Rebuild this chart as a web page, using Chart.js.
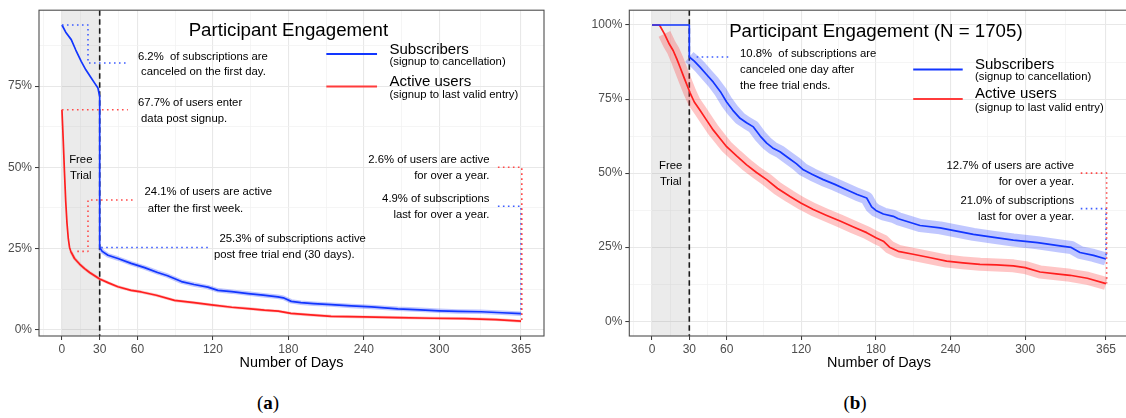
<!DOCTYPE html>
<html>
<head>
<meta charset="utf-8">
<title>Participant Engagement</title>
<script src="https://cdn.jsdelivr.net/npm/chart.js@4.4.1/dist/chart.umd.min.js"></script>
<style>
  html, body { margin: 0; padding: 0; background: #fff; width: 1126px; height: 418px; overflow: hidden; position: relative; }
  canvas { position: absolute; top: 0; }
  .tag { position: absolute; top: 392px; width: 60px; text-align: center; font: 19px "Liberation Serif", "DejaVu Serif", serif; color: #000; }
  .tag b { font-weight: bold; }
</style>
</head>
<body>
<canvas id="panelA" width="560" height="380" style="left:0px"></canvas>
<canvas id="panelB" width="570" height="380" style="left:565px"></canvas>
<div class="tag" style="left:238px">(<b>a</b>)</div>
<div class="tag" style="left:825px">(<b>b</b>)</div>

<script>
// ---- axis breaks ----
const dayTicks = [0, 30, 60, 120, 180, 240, 300, 365];
const dayMinor = [-15, 15, 45, 90, 150, 210, 270, 332.5];
const pctTicksA = [0, 25, 50, 75];
const pctTicksB = [0, 25, 50, 75, 100];
const pctMinor = [12.5, 37.5, 62.5, 87.5];
const trialDays = 30;

// ---- panel (a): subscribers (signup to cancellation) ----
const subsDaysA = [0, 3, 7.4, 11, 15.3, 19, 23.3, 26, 28.6, 30, 30, 32, 36.6, 44.5, 55, 65.7, 76, 84, 95, 105, 116, 124, 135, 148, 160, 171.7, 176, 182.3, 190, 200, 214, 230, 246, 267, 285, 300, 315, 333, 350, 365];
const subsPctA  = [93.8, 91.6, 89.3, 86.1, 82.6, 80.0, 77.5, 75.9, 74.4, 71.8, 25.3, 24.1, 22.9, 21.9, 20.4, 19.1, 17.6, 16.6, 14.8, 13.9, 13.1, 12.1, 11.7, 11.1, 10.6, 10.1, 9.8, 8.7, 8.3, 8.0, 7.7, 7.3, 7.0, 6.4, 6.1, 5.8, 5.6, 5.5, 5.2, 4.9];

// ---- panel (a): active users (signup to last valid entry) ----
const activeDaysA = [0, 1, 2, 3, 4, 5, 6, 7, 10, 14, 18, 22, 26, 30, 37, 44.5, 55, 63, 75, 89.5, 105, 119, 135, 150, 161, 172, 182, 195, 214, 240, 267, 295, 320, 345, 365];
const activePctA  = [67.7, 58.5, 48.5, 39.5, 32.8, 28.2, 25.4, 24.1, 21.9, 20.2, 18.8, 17.6, 16.6, 15.6, 14.4, 13.2, 12.1, 11.6, 10.6, 9.0, 8.3, 7.6, 6.9, 6.4, 6.0, 5.7, 5.0, 4.6, 4.1, 3.9, 3.7, 3.5, 3.4, 3.1, 2.6];

// ---- panel (b): subscribers, N = 1705 ----
const subsDaysB = [0, 30, 30, 34, 38.6, 44, 49.3, 55, 60, 65, 70.8, 76, 81.5, 87, 92.2, 97, 102.9, 110, 116, 121.7, 129, 137.7, 147, 156.5, 165, 172.6, 176.6, 180, 186, 194, 198, 215.5, 231.6, 245, 258.4, 275, 290.5, 310, 328, 337, 344.1, 355, 365];
const subsPctB  = [100, 100, 89.2, 87.8, 85.8, 83.2, 80.7, 77.5, 74.0, 71.2, 68.5, 67.0, 65.6, 62.5, 60.1, 58.5, 57.2, 55.0, 53.2, 51.1, 49.5, 47.8, 46.2, 44.4, 42.8, 41.6, 38.6, 37.4, 36.2, 35.4, 34.6, 32.3, 31.5, 30.4, 29.3, 28.3, 27.4, 26.5, 25.4, 24.9, 23.2, 22.2, 21.0];

// ---- panel (b): active users, N = 1705 ----
const activeDaysB = [0, 6, 10, 14, 17, 20, 22.5, 26, 30.5, 34, 38.6, 44, 49.3, 55, 60, 68, 76.1, 84, 92.2, 101, 111, 120, 129.7, 140, 151.2, 162, 172.6, 180, 186, 191, 198, 210, 223, 236.9, 250, 263.7, 277, 290.5, 300, 312, 325, 336.1, 350, 365];
const activePctB  = [100, 100, 97.0, 93.5, 91.4, 88.5, 85.8, 82.0, 77.2, 74.0, 71.2, 67.8, 64.5, 61.5, 58.9, 55.8, 52.8, 50.2, 47.8, 44.8, 42.1, 39.8, 37.7, 35.8, 33.8, 31.8, 29.9, 28.2, 27.0, 25.0, 23.6, 22.6, 21.5, 20.3, 19.7, 19.2, 19.0, 18.7, 18.1, 16.6, 16.0, 15.5, 14.5, 12.7];

// ---- styling ----
const FONT = "'Liberation Sans', Arial, Helvetica, sans-serif";
Chart.defaults.font.family = FONT;
const BLUE = '#1236ff', RED = '#ff1f1f';
const BLUE_BAND = 'rgba(45, 70, 255, 0.30)', RED_BAND = 'rgba(255, 45, 45, 0.28)';
const BLUE_DOT = '#3d5cff', RED_DOT = '#ff4a4a';

const fmt = v => v.toFixed(1);
const pts = (xs, ys) => xs.map((d, i) => ({ x: d, y: ys[i] }));
const last = arr => arr[arr.length - 1];

function lineSet(data, color, width, order, extra) {
  return Object.assign({
    data, borderColor: color, borderWidth: width, pointRadius: 0,
    fill: false, tension: 0, order, borderJoinStyle: 'round', borderCapStyle: 'butt'
  }, extra || {});
}
function guideSet(coords, color) {
  return lineSet(coords.map(([x, y]) => ({ x, y })), color, 1.6, 0, { borderDash: [1.6, 3.4] });
}

function xAxis() {
  return {
    type: 'linear', min: -18.25, max: 383.25,
    afterBuildTicks(s) { s.ticks = [...dayTicks, ...dayMinor].sort((a, b) => a - b).map(v => ({ value: v })); },
    ticks: { autoSkip: false, maxRotation: 0, color: '#4d4d4d', font: { size: 12 }, padding: 2,
             callback: v => dayTicks.includes(v) ? String(v) : '' },
    grid: {
      color: c => dayTicks.includes(c.tick.value) ? '#e8e8e8' : '#f0f0f0',
      lineWidth: c => dayTicks.includes(c.tick.value) ? 1.1 : 0.7,
      tickLength: 4, tickWidth: 1,
      tickColor: c => dayTicks.includes(c.tick.value) ? '#333333' : 'rgba(0,0,0,0)'
    },
    border: { display: false },
    title: { display: true, text: 'Number of Days', color: '#000', font: { size: 14.4 }, padding: { top: 0, bottom: 8 } },
    afterFit(s) { s.height = 44; }
  };
}
function yAxis(min, max, major, width) {
  return {
    type: 'linear', min, max,
    afterBuildTicks(s) { s.ticks = [...major, ...pctMinor].filter(v => v >= min && v <= max).sort((a, b) => a - b).map(v => ({ value: v })); },
    ticks: { autoSkip: false, color: '#4d4d4d', font: { size: 12 }, padding: 3,
             callback: v => major.includes(v) ? v + '%' : '' },
    grid: {
      color: c => major.includes(c.tick.value) ? '#e8e8e8' : '#f0f0f0',
      lineWidth: c => major.includes(c.tick.value) ? 1.1 : 0.7,
      tickLength: 4, tickWidth: 1,
      tickColor: c => major.includes(c.tick.value) ? '#333333' : 'rgba(0,0,0,0)'
    },
    border: { display: false },
    afterFit(s) { s.width = width; }
  };
}

// Shading, trial-end line, texts, legend keys and the panel frame.
function decor(spec) {
  return {
    id: 'decor',
    beforeDatasetsDraw(chart) {
      const { ctx, chartArea: a, scales: { x } } = chart;
      ctx.save();
      const x0 = x.getPixelForValue(0), x1 = x.getPixelForValue(trialDays);
      ctx.fillStyle = 'rgba(120,120,120,0.15)';
      ctx.fillRect(x0, a.top, x1 - x0, a.bottom - a.top);
      ctx.strokeStyle = '#1a1a1a';
      ctx.lineWidth = 1.6;
      ctx.setLineDash([5.5, 3.5]);
      ctx.beginPath();
      ctx.moveTo(x1, a.top);
      ctx.lineTo(x1, a.bottom);
      ctx.stroke();
      ctx.restore();
    },
    afterDatasetsDraw(chart) {
      const { ctx, scales: { x, y } } = chart;
      ctx.save();
      ctx.textBaseline = 'middle';
      // legend keys
      ctx.lineWidth = 2;
      spec.keys.forEach(k => {
        ctx.strokeStyle = k.color;
        ctx.beginPath();
        ctx.moveTo(x.getPixelForValue(k.from), y.getPixelForValue(k.at));
        ctx.lineTo(x.getPixelForValue(k.to), y.getPixelForValue(k.at));
        ctx.stroke();
      });
      // titles, legend labels and notes
      ctx.fillStyle = '#000';
      spec.texts.forEach(([d, p, s, align, size]) => {
        ctx.font = (size || 11.3) + 'px ' + FONT;
        ctx.textAlign = align;
        ctx.fillText(s, x.getPixelForValue(d), y.getPixelForValue(p));
      });
      ctx.restore();
    },
    afterDraw(chart) {
      const { ctx, chartArea: a } = chart;
      ctx.save();
      ctx.strokeStyle = '#4d4d4d';
      ctx.lineWidth = 1.1;
      ctx.strokeRect(a.left, a.top, a.right - a.left, a.bottom - a.top);
      ctx.restore();
    }
  };
}

function legendTexts(title, titlePct, left, pcts) {
  return [
    [180, titlePct, title, 'center', 18.7],
    [left, pcts[0], 'Subscribers', 'left', 15],
    [left, pcts[1], '(signup to cancellation)', 'left', 11.3],
    [left, pcts[2], 'Active users', 'left', 15],
    [left, pcts[3], '(signup to last valid entry)', 'left', 11.3]
  ];
}

function makePanel(id, cfg) {
  return new Chart(document.getElementById(id), {
    type: 'line',
    data: { datasets: cfg.datasets },
    options: {
      responsive: false, animation: false, devicePixelRatio: 1,
      parsing: true, normalized: true,
      layout: { padding: { left: 0, top: 10, right: cfg.rightPad, bottom: 0 } },
      scales: { x: xAxis(), y: yAxis(cfg.yMin, cfg.yMax, cfg.yMajor, cfg.yWidth) },
      plugins: { legend: { display: false }, tooltip: { enabled: false } }
    },
    plugins: [decor(cfg)]
  });
}

// ---------- panel (a) ----------
const dropA = subsDaysA.lastIndexOf(trialDays);
const weekA = activeDaysA.indexOf(7);
const subsA = pts(subsDaysA, subsPctA);
const activeA = pts(activeDaysA, activePctA);

makePanel('panelA', {
  yMin: -1.96, yMax: 98.36, yMajor: pctTicksA, yWidth: 39, rightPad: 16,
  datasets: [
    lineSet(subsA.slice(dropA), BLUE_BAND, 4.5, 3),
    lineSet(activeA.slice(weekA), RED_BAND, 3, 3),
    lineSet(activeA, RED, 1.7, 2),
    lineSet(subsA, BLUE, 1.7, 1),
    guideSet([[0, subsPctA[0]], [20.7, subsPctA[0]], [20.7, 82.1], [53.3, 82.1]], BLUE_DOT),
    guideSet([[0, activePctA[0]], [52.4, activePctA[0]]], RED_DOT),
    guideSet([[12.2, activePctA[weekA]], [20.7, activePctA[weekA]], [20.7, 39.9], [57.7, 39.9]], RED_DOT),
    guideSet([[31.2, subsPctA[dropA]], [117.3, subsPctA[dropA]]], BLUE_DOT),
    guideSet([[346.6, 50], [365.6, 50], [365.6, last(activePctA)]], RED_DOT),
    guideSet([[346.6, 38], [365, 38], [365, last(subsPctA)]], BLUE_DOT)
  ],
  keys: [
    { color: BLUE, from: 210.2, to: 250.5, at: 84.9 },
    { color: '#ff3b3b', from: 210.2, to: 250.5, at: 74.9 }
  ],
  texts: [
    ...legendTexts('Participant Engagement', 92.1, 260.4, [86.2, 82.4, 76.4, 72.3]),
    [15, 52.2, 'Free', 'center'],
    [15, 47.4, 'Trial', 'center'],
    [60.4, 84.1, `${fmt(100 - subsPctA[0])}%  of subscriptions are`, 'left'],
    [60.4, 79.3, ' canceled on the first day.', 'left'],
    [60.4, 69.9, `${fmt(activePctA[0])}% of users enter`, 'left'],
    [60.4, 64.9, ' data post signup.', 'left'],
    [65.7, 42.3, `${fmt(activePctA[weekA])}% of users are active`, 'left'],
    [65.7, 37.1, ' after the first week.', 'left'],
    [125.3, 27.8, `${fmt(subsPctA[dropA])}% of subscriptions active`, 'left'],
    [120.8, 22.9, 'post free trial end (30 days).', 'left'],
    [339.9, 52.3, `${fmt(last(activePctA))}% of users are active`, 'right'],
    [339.9, 47.3, 'for over a year.', 'right'],
    [339.9, 40.2, `${fmt(last(subsPctA))}% of subscriptions`, 'right'],
    [339.9, 35.3, 'last for over a year.', 'right']
  ]
});

// ---------- panel (b) ----------
const dropB = subsDaysB.lastIndexOf(trialDays);
const subsB = pts(subsDaysB, subsPctB);
const activeB = pts(activeDaysB, activePctB);
const N = 1705;

makePanel('panelB', {
  yMin: -5, yMax: 105, yMajor: pctTicksB, yWidth: 64.3, rightPad: 6.3,
  datasets: [
    lineSet(subsB.slice(dropB), BLUE_BAND, 13, 3),
    lineSet(activeB.slice(2), RED_BAND, 13, 3),
    lineSet(activeB, RED, 1.7, 2),
    lineSet(subsB, BLUE, 1.7, 1),
    guideSet([[35.9, subsPctB[dropB]], [64, subsPctB[dropB]]], BLUE_DOT),
    guideSet([[344.7, 50], [365.5, 50], [365.5, last(activePctB)]], RED_DOT),
    guideSet([[344.7, 38], [365, 38], [365, last(subsPctB)]], BLUE_DOT)
  ],
  keys: [
    { color: BLUE, from: 210, to: 249.8, at: 85 },
    { color: '#ff3b3b', from: 210, to: 249.8, at: 75 }
  ],
  texts: [
    ...legendTexts(`Participant Engagement (N = ${N})`, 97.8, 259.7, [86.7, 82.4, 76.6, 72.1]),
    [15, 52.6, 'Free', 'center'],
    [15, 47.2, 'Trial', 'center'],
    [70.8, 90.3, `${fmt(100 - subsPctB[dropB])}%  of subscriptions are`, 'left'],
    [70.8, 84.9, 'canceled one day after', 'left'],
    [70.8, 79.6, 'the free trial ends.', 'left'],
    [339.3, 52.6, `${fmt(last(activePctB))}% of users are active`, 'right'],
    [339.3, 47.0, 'for over a year.', 'right'],
    [339.3, 40.5, `${fmt(last(subsPctB))}% of subscriptions`, 'right'],
    [339.3, 35.1, 'last for over a year.', 'right']
  ]
});
</script>
</body>
</html>
